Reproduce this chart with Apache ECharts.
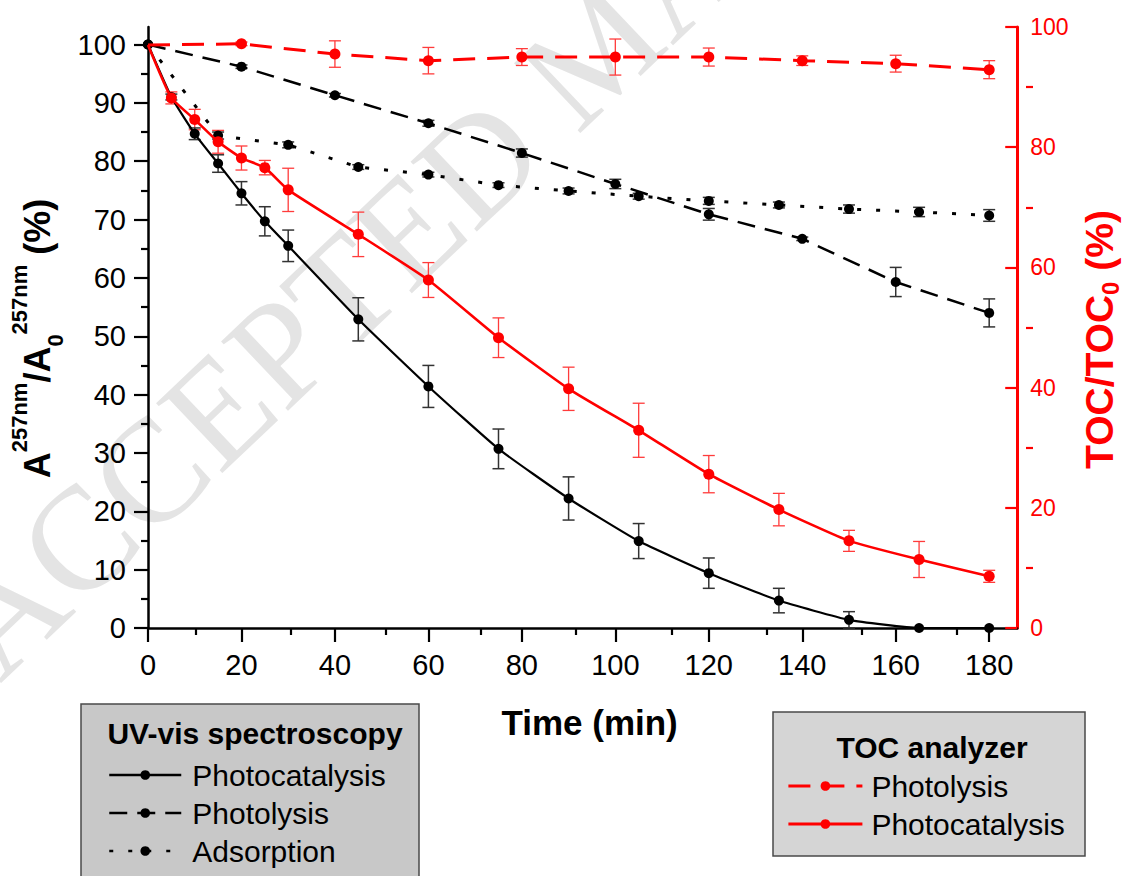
<!DOCTYPE html>
<html>
<head>
<meta charset="utf-8">
<script src="https://cdn.jsdelivr.net/npm/echarts@6/dist/echarts.min.js"></script>
<style>html,body{margin:0;padding:0;background:#fff}#c{width:1130px;height:876px}</style>
</head>
<body>
<div id="c"></div>
<script>
const FONT = '"Liberation Sans", Arial, Helvetica, sans-serif';

// ---- data ----
const uvPhotocatTime  = [0,5,10,15,20,25,30,45,60,75,90,105,120,135,150,165,180];
const uvPhotocatValue = [100,91.0,84.7,79.6,74.5,69.7,65.5,52.9,41.4,30.7,22.2,14.9,9.4,4.7,1.4,0,0];
const uvPhotocatError = [0,0.5,1.0,1.5,2.0,2.5,2.7,3.7,3.6,3.4,3.7,3.0,2.6,2.1,1.4,0,0];

const uvPhotolysisTime  = [0,20,40,60,80,100,120,140,160,180];
const uvPhotolysisValue = [100,96.2,91.3,86.5,81.4,76.1,70.9,66.7,59.3,54.0];
const uvPhotolysisError = [0,0.3,0.3,0.5,0.7,0.8,1.0,0.3,2.5,2.4];

const uvAdsorptionTime  = [0,15,30,45,60,75,90,105,120,135,150,165,180];
const uvAdsorptionValue = [100,84.4,82.8,79.0,77.7,75.9,74.9,74.0,73.2,72.5,71.8,71.3,70.7];
const uvAdsorptionError = [0,0.6,0.5,0.4,0.4,0.4,0.5,0.5,0.6,0.5,0.7,0.8,1.0];

const tocPhotolysisTime  = [0,20,40,60,80,100,120,140,160,180];
const tocPhotolysisValue = [97.0,97.2,95.5,94.4,95.0,95.0,95.0,94.4,93.9,92.9];
const tocPhotolysisError = [0,0.3,2.2,2.2,1.4,3.0,1.5,0.8,1.4,1.5];

const tocPhotocatTime  = [0,5,10,15,20,25,30,45,60,75,90,105,120,135,150,165,180];
const tocPhotocatValue = [97.0,88.2,84.6,80.9,78.2,76.6,72.9,65.5,57.9,48.3,39.8,32.9,25.6,19.7,14.5,11.4,8.6];
const tocPhotocatError = [0,1.0,1.7,1.9,2.0,1.2,3.6,3.7,2.9,3.3,3.6,4.5,3.1,2.7,1.75,3.0,1.0];

const xMajorTicks = [0,20,40,60,80,100,120,140,160,180];
const xMinorTicks = [10,30,50,70,90,110,130,150,170];
const leftMajorTicks = [0,10,20,30,40,50,60,70,80,90,100];
const leftMinorTicks = [5,15,25,35,45,55,65,75,85,95];
const rightMajorTicks = [0,20,40,60,80,100];
const rightMinorTicks = [10,30,50,70,90];

const uvNames = ['UV Photocatalysis','UV Photolysis','UV Adsorption'];
const tocNames = ['TOC Photolysis','TOC Photocatalysis'];

// ---- builders ----
function lineSeries(name, times, values, yAxisIndex, color, type, width, size, hideFirst, smooth, z) {
  return {
    type: 'line', name, xAxisIndex: 0, yAxisIndex,
    data: times.map((t, i) => (hideFirst && i === 0) ? {value: [t, values[i]], symbol: 'none'} : [t, values[i]]),
    symbol: 'circle', symbolSize: size, showSymbol: true,
    smooth: smooth,
    itemStyle: {color: color},
    lineStyle: {color: color, width: width, type: type, cap: 'butt'},
    z: z, silent: true, animation: false
  };
}
function errorSeries(name, times, values, errors, yAxisIndex, color, width, z) {
  return {
    type: 'custom', name, xAxisIndex: 0, yAxisIndex,
    data: times.map((t, i) => [t, values[i], errors[i]]),
    encode: {x: 0, y: 1},
    renderItem: function (params, api) {
      const t = api.value(0), v = api.value(1), e = api.value(2);
      if (!e) return null;
      const hi = api.coord([t, v + e]);
      const lo = api.coord([t, v - e]);
      const hw = 6;
      const st = {stroke: color, lineWidth: width};
      return {type: 'group', children: [
        {type: 'line', shape: {x1: hi[0], y1: hi[1], x2: lo[0], y2: lo[1]}, style: st},
        {type: 'line', shape: {x1: hi[0] - hw, y1: hi[1], x2: hi[0] + hw, y2: hi[1]}, style: st},
        {type: 'line', shape: {x1: lo[0] - hw, y1: lo[1], x2: lo[0] + hw, y2: lo[1]}, style: st}
      ]};
    },
    z: z, silent: true, animation: false, clip: false
  };
}

const RED = '#ff0000';
const series = [
  errorSeries('err toc photolysis', tocPhotolysisTime, tocPhotolysisValue, tocPhotolysisError, 1, '#ff3b3b', 1.3, 2),
  errorSeries('err toc photocat', tocPhotocatTime, tocPhotocatValue, tocPhotocatError, 1, '#ff3b3b', 1.3, 2),
  errorSeries('err uv photocat', uvPhotocatTime, uvPhotocatValue, uvPhotocatError, 0, '#333333', 1.5, 2),
  errorSeries('err uv photolysis', uvPhotolysisTime, uvPhotolysisValue, uvPhotolysisError, 0, '#333333', 1.5, 2),
  errorSeries('err uv adsorption', uvAdsorptionTime, uvAdsorptionValue, uvAdsorptionError, 0, '#333333', 1.5, 2),
  lineSeries('UV Photocatalysis', uvPhotocatTime, uvPhotocatValue, 0, '#000000', 'solid', 2.2, 10, false, 0.15, 3),
  lineSeries('UV Photolysis', uvPhotolysisTime, uvPhotolysisValue, 0, '#000000', [18, 10], 2.5, 10, false, false, 3),
  lineSeries('UV Adsorption', uvAdsorptionTime, uvAdsorptionValue, 0, '#000000', [4, 15], 3, 10, false, false, 3),
  lineSeries('TOC Photolysis', tocPhotolysisTime, tocPhotolysisValue, 1, RED, [22, 12], 3, 11, true, false, 4),
  lineSeries('TOC Photocatalysis', tocPhotocatTime, tocPhotocatValue, 1, RED, 'solid', 2.6, 11, true, 0.15, 4)
];

const gridRect = {left: 148, right: 97, top: 27, bottom: 248};

const option = {
  animation: false,
  backgroundColor: '#ffffff',
  grid: [Object.assign({}, gridRect), Object.assign({}, gridRect)],
  xAxis: [
    {
      type: 'value', gridIndex: 0, min: 0, max: 186, interval: 20,
      axisLine: {show: true, lineStyle: {color: '#000', width: 2.5}},
      axisTick: {show: true, customValues: xMajorTicks, length: 14, lineStyle: {color: '#000', width: 2.2}},
      axisLabel: {customValues: xMajorTicks, fontSize: 29, fontFamily: FONT, color: '#000', margin: 22},
      splitLine: {show: false},
      name: 'Time (min)', nameLocation: 'middle', nameGap: 77,
      nameTextStyle: {fontSize: 35, fontWeight: 'bold', fontFamily: FONT, color: '#000', padding: [0, 0, 0, 14]}
    },
    {
      type: 'value', gridIndex: 1, min: 0, max: 186,
      axisLine: {show: false},
      axisTick: {show: true, customValues: xMinorTicks, length: 7, lineStyle: {color: '#000', width: 2.2}},
      axisLabel: {show: false}, splitLine: {show: false}
    }
  ],
  yAxis: [
    {
      type: 'value', gridIndex: 0, position: 'left', min: 0, max: 103,
      axisLine: {show: true, lineStyle: {color: '#000', width: 2.5}},
      axisTick: {show: true, customValues: leftMajorTicks, length: 14, lineStyle: {color: '#000', width: 2.2}},
      axisLabel: {customValues: leftMajorTicks, fontSize: 29, fontFamily: FONT, color: '#000', margin: 22},
      splitLine: {show: false},
      name: '{b|A}{sup|257nm}{b|/A}{sub|0}{sup|257nm}{b| (%)}',
      nameLocation: 'middle', nameRotate: 90, nameGap: 82,
      nameTextStyle: {
        fontFamily: FONT, fontWeight: 'bold', color: '#000', padding: [0, 22, 0, 0],
        rich: {
          b: {fontSize: 36, fontWeight: 'bold', fontFamily: FONT, color: '#000', lineHeight: 58},
          sup: {fontSize: 22, fontWeight: 'bold', fontFamily: FONT, color: '#000', lineHeight: 22, verticalAlign: 'top'},
          sub: {fontSize: 22, fontWeight: 'bold', fontFamily: FONT, color: '#000', lineHeight: 36, verticalAlign: 'bottom'}
        }
      }
    },
    {
      type: 'value', gridIndex: 0, position: 'right', min: 0, max: 100, interval: 20,
      axisLine: {show: true, lineStyle: {color: RED, width: 3}},
      axisTick: {show: true, inside: true, customValues: rightMajorTicks, length: 12, lineStyle: {color: RED, width: 2.2}},
      axisLabel: {customValues: rightMajorTicks, fontSize: 23, fontFamily: FONT, color: RED, margin: 13},
      splitLine: {show: false},
      name: '{t|TOC/TOC}{s|0}{t| (%)}',
      nameLocation: 'middle', nameRotate: 90, nameGap: 48,
      nameTextStyle: {
        fontFamily: FONT, fontWeight: 'bold', color: RED, padding: [0, 24, 0, 0],
        rich: {
          t: {fontSize: 39, fontWeight: 'bold', fontFamily: FONT, color: RED, lineHeight: 46},
          s: {fontSize: 24, fontWeight: 'bold', fontFamily: FONT, color: RED, lineHeight: 30, verticalAlign: 'bottom'}
        }
      }
    },
    {
      type: 'value', gridIndex: 1, position: 'left', min: 0, max: 103,
      axisLine: {show: false},
      axisTick: {show: true, customValues: leftMinorTicks, length: 7, lineStyle: {color: '#000', width: 2.2}},
      axisLabel: {show: false}, splitLine: {show: false}
    },
    {
      type: 'value', gridIndex: 1, position: 'right', min: 0, max: 100,
      axisLine: {show: false},
      axisTick: {show: true, inside: true, customValues: rightMinorTicks, length: 7, lineStyle: {color: RED, width: 2.2}},
      axisLabel: {show: false}, splitLine: {show: false}
    }
  ],
  legend: [
    {
      data: uvNames, orient: 'vertical', left: 108, top: 760, padding: 0,
      itemWidth: 72, itemHeight: 12, itemGap: 8, selectedMode: false, z: 10,
      lineStyle: {width: 2.5},
      formatter: n => n.replace(/^UV /, ''),
      textStyle: {fontFamily: FONT, fontSize: 30, color: '#000', lineHeight: 30, padding: [0, 0, 0, 6]}
    },
    {
      data: tocNames, orient: 'vertical', left: 787, top: 771, padding: 0,
      itemWidth: 74, itemHeight: 12, itemGap: 8, selectedMode: false, z: 10,
      lineStyle: {width: 2.8},
      formatter: n => n.replace(/^TOC /, ''),
      textStyle: {fontFamily: FONT, fontSize: 30, color: '#000', lineHeight: 30, padding: [0, 0, 0, 4]}
    }
  ],
  graphic: [
    {
      type: 'text', z: 0, silent: true, x: -34, y: 648, rotation: 43.5 * Math.PI / 180,
      style: {text: 'ACCEPTED MANUSCRIPT', font: 'normal 147px "Liberation Serif", "Times New Roman", serif',
              fill: '#e4e4e4', textAlign: 'left', textVerticalAlign: 'middle'}
    },
    {
      type: 'rect', z: 1, silent: true, shape: {x: 81, y: 704, width: 338, height: 200},
      style: {fill: '#c8c8c8', stroke: '#4a4a4a', lineWidth: 1.5}
    },
    {
      type: 'text', z: 2, silent: true, x: 255, y: 733,
      style: {text: 'UV-vis spectroscopy', font: 'bold 30px "Liberation Sans", Arial, sans-serif', fill: '#000',
              textAlign: 'center', textVerticalAlign: 'middle'}
    },
    {
      type: 'rect', z: 1, silent: true, shape: {x: 773, y: 712, width: 312, height: 144},
      style: {fill: '#d5d5d5', stroke: '#4a4a4a', lineWidth: 1.5}
    },
    {
      type: 'text', z: 2, silent: true, x: 932, y: 747,
      style: {text: 'TOC analyzer', font: 'bold 30px "Liberation Sans", Arial, sans-serif', fill: '#000',
              textAlign: 'center', textVerticalAlign: 'middle'}
    }
  ],
  series: series
};

const chart = echarts.init(document.getElementById('c'), null, {renderer: 'svg', width: 1130, height: 876});
chart.setOption(option);
</script>
</body>
</html>
